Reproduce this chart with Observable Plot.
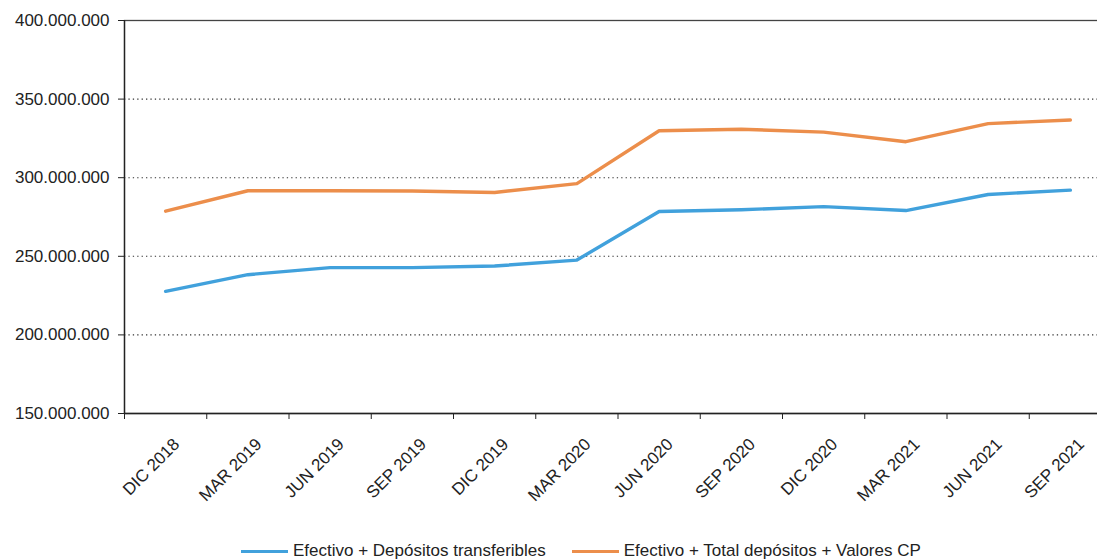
<!DOCTYPE html>
<html>
<head>
<meta charset="utf-8">
<script src="https://cdn.jsdelivr.net/npm/d3@7"></script>
<script src="https://cdn.jsdelivr.net/npm/@observablehq/plot@0.6"></script>
<style>
  html, body { margin: 0; padding: 0; background: #fff; overflow: hidden; width: 1097px; height: 560px; }
  body { font-family: "Liberation Sans", Arial, sans-serif; position: relative; }
  #chart { position: absolute; left: 0; top: 0; width: 1120px; }
  #chart svg { max-width: none !important; width: 1120px !important; height: 525px !important; }
  #legend { position: absolute; left: 241px; top: 541px; display: flex; align-items: center; font-size: 17px; color: #222; white-space: nowrap; }
  .item { display: flex; align-items: center; }
  .swatch { width: 47px; height: 3px; margin-right: 5px; }
</style>
</head>
<body>
<div id="chart"></div>
<div id="legend"></div>
<script>
const categories = ["DIC 2018","MAR 2019","JUN 2019","SEP 2019","DIC 2019","MAR 2020","JUN 2020","SEP 2020","DIC 2020","MAR 2021","JUN 2021","SEP 2021"];
const seriesNames = ["Efectivo + Depósitos transferibles", "Efectivo + Total depósitos + Valores CP"];
const efectivoDepTransf = [227.7e6, 238.3e6, 242.8e6, 242.8e6, 243.8e6, 247.6e6, 278.5e6, 279.6e6, 281.6e6, 279.1e6, 289.3e6, 292.1e6];
const efectivoTotalDepVal = [278.7e6, 291.7e6, 291.7e6, 291.5e6, 290.6e6, 296.2e6, 329.9e6, 330.8e6, 329.0e6, 322.9e6, 334.4e6, 336.7e6];
const yTicks = [150e6, 200e6, 250e6, 300e6, 350e6, 400e6];
const gridTicks = [200e6, 250e6, 300e6, 350e6];
const colors = ["#41a1dc", "#ec8e4b"];

const rows = [];
categories.forEach((c, i) => {
  rows.push({i, cat: c, serie: seriesNames[0], v: efectivoDepTransf[i]});
  rows.push({i, cat: c, serie: seriesNames[1], v: efectivoTotalDepVal[i]});
});

const loc = d3.formatLocale({decimal: ",", thousands: ".", grouping: [3], currency: ["", ""]});
const fmt = loc.format(",d");

const idx = categories.map((_, i) => i);
const bounds = categories.map((_, i) => i - 0.5).concat([categories.length - 0.5]);

const W = 1120, H = 525;
const chart = Plot.plot({
  width: W,
  height: H,
  marginLeft: 124,
  marginRight: W - 1111,
  marginTop: 20,
  marginBottom: H - 413,
  style: {fontFamily: "'Liberation Sans', Arial, sans-serif", fontSize: "17px", color: "#222", background: "#fff", maxWidth: "none"},
  x: {type: "linear", domain: [-0.5, categories.length - 0.5]},
  y: {domain: [150e6, 400e6]},
  color: {domain: seriesNames, range: colors},
  marks: [
    Plot.ruleY(gridTicks, {stroke: "#333", strokeDasharray: "1.3,3.1", strokeWidth: 1.1}),
    Plot.frame({stroke: "#444", strokeWidth: 1.3}),
    Plot.axisY({ticks: yTicks, tickFormat: fmt, tickSize: 6, tickPadding: 9, label: null, stroke: "#222", fill: "#222", fontSize: 17}),
    Plot.axisX({ticks: bounds, tickFormat: () => "", tickSize: 6, label: null, stroke: "#222"}),
    Plot.axisX({ticks: idx, tickFormat: i => categories[i], tickSize: 0, tickPadding: 28, dx: 11, tickRotate: -45, label: null, fill: "#222", fontSize: 17}),
    Plot.ruleY([150e6], {stroke: "#222", strokeWidth: 1.3}),
    Plot.ruleX([-0.5], {stroke: "#222", strokeWidth: 1.3}),
    Plot.line(rows, {x: "i", y: "v", z: "serie", stroke: "serie", strokeWidth: 3.4, curve: "linear"})
  ]
});
document.getElementById("chart").appendChild(chart);

const legend = document.getElementById("legend");
seriesNames.forEach((name, k) => {
  const item = document.createElement("div");
  item.className = "item";
  if (k > 0) item.style.marginLeft = "26px";
  const sw = document.createElement("div");
  sw.className = "swatch";
  sw.style.background = colors[k];
  const t = document.createElement("span");
  t.textContent = name;
  item.appendChild(sw);
  item.appendChild(t);
  legend.appendChild(item);
});
</script>
</body>
</html>
